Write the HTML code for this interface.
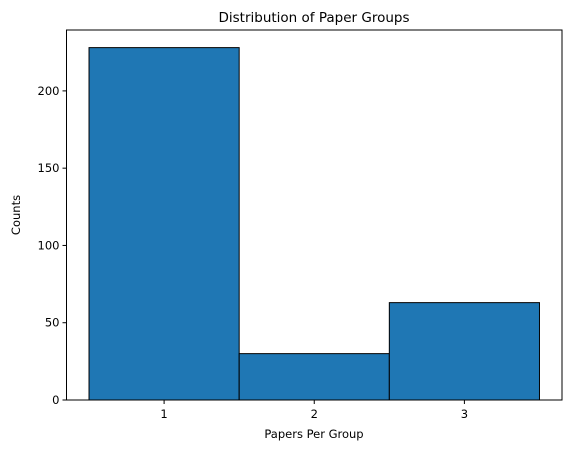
<!DOCTYPE html>
<html><head><meta charset="utf-8"><style>
body{margin:0;background:#fff;font-family:"Liberation Sans","DejaVu Sans",sans-serif}
text{font-family:"DejaVu Sans","Liberation Sans",sans-serif}
</style></head><body>
<svg id="chart" width="571" height="453" xmlns="http://www.w3.org/2000/svg">
<text x="314" y="22" font-size="13.5" text-anchor="middle">Distribution of Paper Groups</text>
<g id="bars"></g><g id="axes"></g>
<text x="314" y="438" font-size="11.5" text-anchor="middle">Papers Per Group</text>
<text transform="translate(20,215) rotate(-90)" font-size="11.5" text-anchor="middle">Counts</text>
</svg>
<script>
const categories=[1,2,3];
const counts=[228,30,63];
const yTicks=[0,50,100,150,200];
const L=66.5,R=562,T=30,B=400;
const xmin=0.35,xmax=3.65,ymax=239.4;
const ns="http://www.w3.org/2000/svg";
const X=v=>L+(v-xmin)/(xmax-xmin)*(R-L);
const Y=v=>B-v/ymax*(B-T);
const bars=document.getElementById('bars'),axes=document.getElementById('axes');
function mk(tag,attrs,parent){const e=document.createElementNS(ns,tag);for(const k in attrs)e.setAttribute(k,attrs[k]);parent.appendChild(e);return e;}
categories.forEach((c,i)=>{
 const r=mk('rect',{x:X(c-0.5),y:Y(counts[i]),width:X(c+0.5)-X(c-0.5),height:Y(0)-Y(counts[i]),fill:'#1f77b4',stroke:'#000','stroke-width':1},bars);
 
 
 const t=mk('line',{x1:X(c),x2:X(c),y1:B,y2:B+4,stroke:'#000'},axes);
 
 
 const l=mk('text',{x:X(c),y:B+18,'font-size':11.5,'text-anchor':'middle'},axes);l.textContent=c;
 
 
});
yTicks.forEach(v=>{
 const t=mk('line',{x1:L-4,x2:L,y1:Y(v),y2:Y(v),stroke:'#000'},axes);
 
 
 const l=mk('text',{x:L-7,y:Y(v)+4,'font-size':11.5,'text-anchor':'end'},axes);l.textContent=v;
 
 
});
const f=mk('rect',{x:L,y:T,width:R-L,height:B-T,fill:'none',stroke:'#000','stroke-width':1},axes);


</script>
</body></html>
